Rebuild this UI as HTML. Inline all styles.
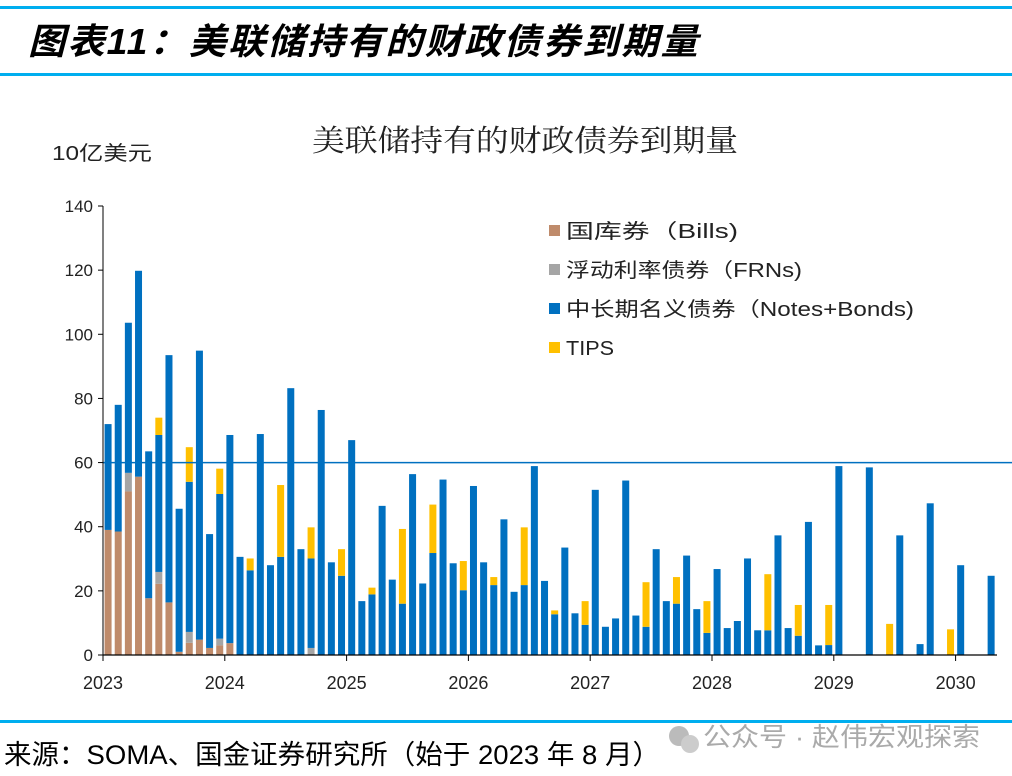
<!DOCTYPE html>
<html><head><meta charset="utf-8">
<style>
body{margin:0;width:1012px;height:776px;background:#fff;overflow:hidden;font-family:"Liberation Sans","Noto Sans CJK SC",sans-serif;}
svg{position:absolute;left:0;top:0}
</style></head>
<body>
<svg width="1012" height="776">
<rect x="0" y="6" width="1012" height="3" fill="#00aeef"/>
<text x="28" y="54" font-size="36" font-weight="bold" font-style="italic" letter-spacing="2" textLength="672" lengthAdjust="spacingAndGlyphs" font-family="'Liberation Sans','Noto Sans CJK SC',sans-serif" fill="#000">图表11：美联储持有的财政债券到期量</text>
<rect x="0" y="73" width="1012" height="3" fill="#00aeef"/>
<text x="312" y="151" font-size="30" textLength="426" lengthAdjust="spacingAndGlyphs" font-family="'Noto Serif CJK SC',serif" fill="#222">美联储持有的财政债券到期量</text>
<text x="52" y="160" font-size="20" textLength="100" lengthAdjust="spacingAndGlyphs" fill="#222">10亿美元</text>
<g id="plot"></g>
<g id="legend"></g>
<rect x="0" y="720" width="1012" height="3" fill="#00aeef"/>
<text x="4" y="764" font-size="27" textLength="656" lengthAdjust="spacingAndGlyphs" fill="#000">来源：SOMA、国金证券研究所（始于 2023 年 8 月）</text>
<g>
<circle cx="679" cy="736" r="10" fill="#bbb"/><circle cx="690" cy="744" r="9" fill="#ccc"/>
<text x="703" y="746" font-size="26" textLength="277" lengthAdjust="spacingAndGlyphs" fill="#aaa">公众号 · 赵伟宏观探索</text>
</g>
</svg>
<script>
const months=[0,1,2,3,4,5,6,7,8,9,10,11,12,13,14,15,16,17,18,19,20,21,22,23,24,25,26,27,28,29,30,31,32,33,34,35,36,37,38,39,40,41,42,43,44,45,46,47,48,49,50,51,52,53,54,55,56,57,58,59,60,61,62,63,64,65,66,67,68,69,70,71,72,75,77,78,80,81,83,84,87];
const bills=[39,38.5,51,55.6,17.7,22.2,16.4,1,3.8,4.8,2.2,3,3.7,0,0,0,0,0,0,0,0,0,0,0,0,0,0,0,0,0,0,0,0,0,0,0,0,0,0,0,0,0,0,0,0,0,0,0,0,0,0,0,0,0,0,0,0,0,0,0,0,0,0,0,0,0,0,0,0,0,0,0,0,0,0,0,0,0,0,0,0];
const frns=[0,0,5.8,0,0,3.7,0,0,3.4,0,0,2.1,0,0,0,0,0,0,0,0,2.2,0,0,0,0,0,0,0,0,0,0,0,0,0,0,0,0,0,0,0,0,0,0,0,0,0,0,0,0,0,0,0,0,0,0,0,0,0,0,0,0,0,0,0,0,0,0,0,0,0,0,0,0,0,0,0,0,0,0,0,0];
const notes=[33,39.5,46.8,64.2,45.8,42.7,77.1,44.6,46.8,90.1,35.5,45.1,64.9,30.6,26.4,68.9,28,30.6,83.2,33,27.9,76.4,28.9,24.7,67,16.8,18.9,46.5,23.5,16,56.4,22.3,31.8,54.7,28.6,20.2,52.7,28.9,21.8,42.3,19.7,21.8,58.9,23.1,12.7,33.5,13,9.4,51.5,8.8,11.4,54.4,12.3,8.8,33,16.8,16,31,14.3,6.9,26.8,8.4,10.6,30.1,7.7,7.7,37.3,8.4,6,41.5,3,3.1,58.9,58.5,0,37.3,3.4,47.3,0,28,24.7];
const tips=[0,0,0,0,0,5.4,0,0,10.8,0,0,7.9,0,0,3.7,0,0,22.4,0,0,9.7,0,0,8.3,0,0,2.1,0,0,23.3,0,0,15.1,0,0,9.1,0,0,2.5,0,0,18,0,0,1.2,0,0,7.4,0,0,0,0,0,13.9,0,0,8.3,0,0,9.9,0,0,0,0,0,17.5,0,0,9.6,0,0,12.5,0,0,9.7,0,0,0,8,0,0];
const yTicks=[0,20,40,60,80,100,120,140];
const xYears=[2023,2024,2025,2026,2027,2028,2029,2030];
const refLine=60;
const seriesNames=['国库券（Bills)','浮动利率债券（FRNs)','中长期名义债券（Notes+Bonds)','TIPS'];
const legendLens=[172,236,348,48];
const colors=['#bf8b6b','#a5a5a5','#0070c0','#ffc000'];

const NS='http://www.w3.org/2000/svg';
const X0=103,X1=997,Y0=655,Y1=206,MPX=10.15;
const y=v=>Y0-(v-0)/(140-0)*(Y0-Y1);
const x=m=>X0+m*MPX;
const plot=document.getElementById('plot');
function el(t,a,p){const e=document.createElementNS(NS,t);for(const k in a)e.setAttribute(k,a[k]);(p||plot).appendChild(e);return e;}
yTicks.forEach(v=>{
 const t=el('line',{x1:X0-5,x2:X0,y1:y(v),y2:y(v),stroke:'#000','stroke-width':1});
 
 
 const l=el('text',{x:X0-10,y:y(v)+6,'text-anchor':'end','font-size':17,fill:'#222'});l.textContent=v;
 
 
});
const series=[bills,frns,notes,tips];
months.forEach((m,i)=>{
 let base=0;
 series.forEach((s,k)=>{
  const v=s[i];if(!v)return;
  const r=el('rect',{x:x(m+0.5)-3.5,width:7,y:y(base+v),height:y(base)-y(base+v),fill:colors[k]});
  
  
  base+=v;
 });
});
const rl=el('line',{x1:X0,x2:1012,y1:y(refLine),y2:y(refLine),stroke:'#0070c0','stroke-width':1.5});


const ya=el('line',{x1:X0,x2:X0,y1:Y1,y2:Y0,stroke:'#000','stroke-width':1});


const xa=el('line',{x1:X0,x2:X1,y1:Y0,y2:Y0,stroke:'#000','stroke-width':1.3});


xYears.forEach((yr,i)=>{
 const px=x(i*12);
 const t=el('line',{x1:px,x2:px,y1:Y0,y2:Y0+6,stroke:'#000'});
 
 
 const l=el('text',{x:px,y:Y0+34,'text-anchor':'middle','font-size':18,fill:'#222'});l.textContent=yr;
 
 
});
const lg=document.getElementById('legend');
seriesNames.forEach((n,i)=>{
 const yy=231+i*39;
 const r=el('rect',{x:549,y:yy-6,width:11,height:11,fill:colors[i]},lg);
 
 
 const t=el('text',{x:566,y:yy+7,'font-size':20,fill:'#222',textLength:legendLens[i],lengthAdjust:'spacingAndGlyphs'},lg);t.textContent=n;
 
 
});
</script>
</body></html>
